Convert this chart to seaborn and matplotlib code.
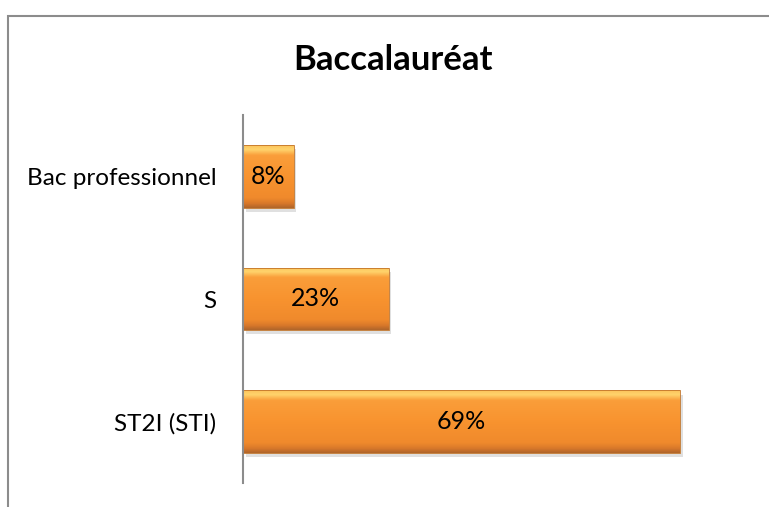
import numpy as np
import pandas as pd
import matplotlib

matplotlib.use('Agg')
import matplotlib.pyplot as plt
from matplotlib.colors import LinearSegmentedColormap
from matplotlib.patches import Rectangle
import matplotlib.patheffects as pe
import seaborn as sns

# Data
categories = ['Bac professionnel', 'S', 'ST2I (STI)']
shares = [0.08, 0.23, 0.69]
value_labels = ['8%', '23%', '69%']

df = pd.DataFrame({'bac': categories, 'part': shares})

sns.set_theme(style='white')
plt.rcParams['font.family'] = ['Lato', 'DejaVu Sans']

fig = plt.figure(figsize=(7.69, 5.07), dpi=100)
ax = fig.add_axes([243 / 769, 24 / 507, 475 / 769, 368 / 507])

sns.barplot(data=df, x='part', y='bac', order=categories, color='#F8932F',
            width=0.51, ax=ax, edgecolor='none')

# orange fill with bevel look: light top edge, flat middle, darker bottom edge
grad = LinearSegmentedColormap.from_list(
    'bar', [(0.0, '#FCC25A'), (0.07, '#FFD46C'), (0.16, '#FA9E3A'),
            (0.5, '#F8932F'), (0.84, '#F08A2C'), (0.93, '#D8782A'), (1.0, '#B0652A')])
for bar in ax.patches:
    x0, y0 = bar.get_x(), bar.get_y()
    w, h = bar.get_width(), bar.get_height()
    bar.set_path_effects([pe.SimplePatchShadow(offset=(2, -3), shadow_rgbFace='#999999', alpha=0.3),
                          pe.Normal()])
    img = np.linspace(0, 1, 200).reshape(-1, 1)
    im = ax.imshow(img, cmap=grad, aspect='auto', extent=[x0, x0 + w, y0 + h, y0],
                   zorder=bar.get_zorder() + 0.1, interpolation='bilinear')
    im.set_clip_path(bar)
    ax.add_patch(Rectangle((x0, y0), w, h, fill=False, edgecolor='#C27428',
                           linewidth=0.6, zorder=bar.get_zorder() + 0.2))

for i, (v, lab) in enumerate(zip(shares, value_labels)):
    ax.text(v / 2, i, lab, ha='center', va='center', fontsize=18,
            color='black', zorder=10)

ax.set_xlim(0, 0.75)
ax.set_ylim(2.5, -0.5)
ax.set_xlabel('')
ax.set_ylabel('')
ax.set_xticks([])
ax.tick_params(axis='y', length=0, pad=19, labelsize=17.5, labelcolor='black')
for side in ['top', 'right', 'bottom']:
    ax.spines[side].set_visible(False)
ax.spines['left'].set_color('#8C8C8C')
ax.spines['left'].set_linewidth(1.5)

fig.text(393 / 769, 1 - 60 / 507, 'Baccalauréat', ha='center', va='center',
         fontsize=25, fontweight='bold', color='black')

# chart frame
fig.patches.append(Rectangle((8 / 769, -0.05), 1.1, 1 - 16 / 507 + 0.05,
                             transform=fig.transFigure, fill=False,
                             edgecolor='#8C8C8C', linewidth=1.5))

fig.savefig('out.png', dpi=100)
plt.close()
